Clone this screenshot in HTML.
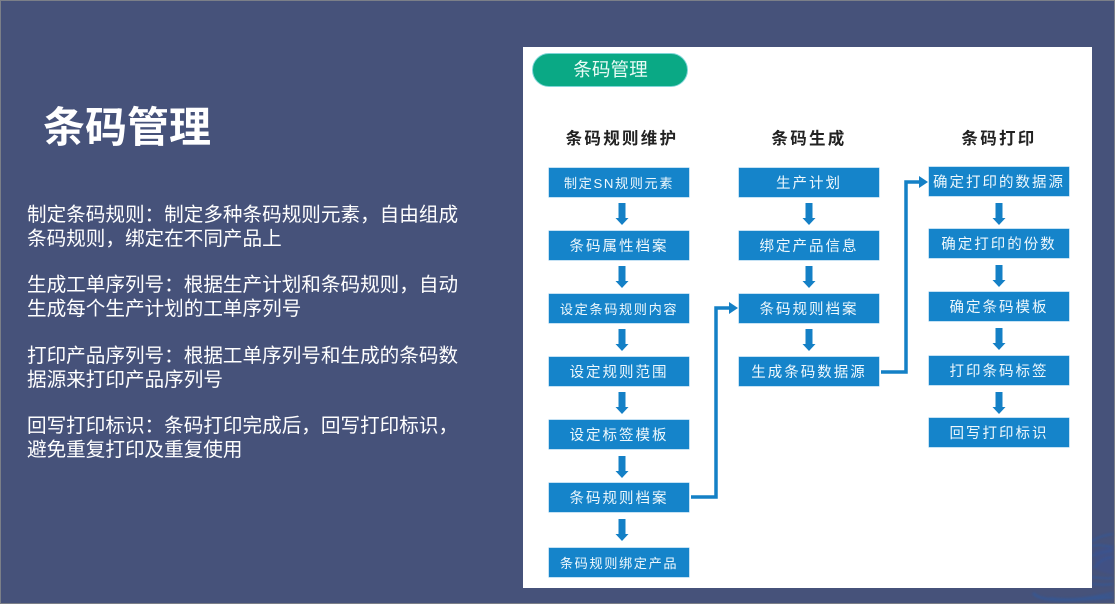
<!DOCTYPE html>
<html lang="zh">
<head>
<meta charset="utf-8">
<style>
html,body{margin:0;padding:0;background:#fff}
body{position:relative;width:1116px;height:605px;overflow:hidden;font-family:"Liberation Sans","Noto Sans CJK SC",sans-serif}
.slide{position:absolute;left:0;top:0;width:1113px;height:602px;background:#46527a;border:1px solid #7b7f88}
.abs{position:absolute}
.title{left:43px;top:100px;font-size:42px;line-height:56px;font-weight:700;color:#fff;white-space:nowrap}
.p{left:27px;width:440px;font-size:19.6px;line-height:24px;color:#fff;white-space:nowrap}
.panel{left:523px;top:47px;width:569px;height:541px;background:#fff}
.pill{left:532px;top:53px;width:154px;height:32px;border:1.5px solid #7fd6d8;border-radius:17px;background:#0aa985;color:#e8fbf5;font-size:18.6px;line-height:32px;text-align:center;text-indent:1px}
.h{width:160px;text-align:center;font-size:16.5px;line-height:22px;font-weight:700;letter-spacing:2.3px;color:#222;white-space:nowrap}
.b{width:140px;height:29px;background:#1584ca;box-shadow:0 0 0 .5px #8cc6ea;color:#eef8fd;font-size:14.5px;line-height:32px;text-align:center;letter-spacing:2px;white-space:nowrap;overflow:hidden}
.s{font-size:13.2px;letter-spacing:1.6px;line-height:31px}
svg{position:absolute;left:0;top:0}
</style>
</head>
<body>
<div class="slide"></div>
<svg width="1116" height="605" viewBox="0 0 1116 605" style="filter:blur(1px)">
<g fill="none" stroke="#2f5aa0" stroke-width="2" opacity=".6">
<path d="M1092 541C1100 536 1106 535 1113 534"/>
<path d="M1092 546C1100 544 1106 546 1113 547"/>
<path d="M1092 556C1100 552 1106 552 1113 550"/>
<path d="M1094 568C1100 560 1106 558 1113 557"/>
<path d="M1092 577C1100 578 1106 579 1113 578"/>
<path d="M1092 584C1100 585 1106 585 1113 584"/>
<path d="M1033 593C1040 601 1060 602 1113 597" stroke-width="3"/>
<path d="M1050 598C1070 601 1090 598 1113 593" stroke-width="2"/>
</g>
<path d="M1094 550L1113 545V575L1096 570Z" fill="#3a4f98" opacity=".35"/>
</svg>

<div class="abs title">条码管理</div>
<div class="abs p" style="top:203px">制定条码规则：制定多种条码规则元素，自由组成<br>条码规则，绑定在不同产品上</div>
<div class="abs p" style="top:273px">生成工单序列号：根据生产计划和条码规则，自动<br>生成每个生产计划的工单序列号</div>
<div class="abs p" style="top:344px">打印产品序列号：根据工单序列号和生成的条码数<br>据源来打印产品序列号</div>
<div class="abs p" style="top:414px">回写打印标识：条码打印完成后，回写打印标识，<br>避免重复打印及重复使用</div>

<div class="abs panel"></div>
<div class="abs pill">条码管理</div>

<div class="abs h" style="left:542px;top:128px">条码规则维护</div>
<div class="abs h" style="left:729px;top:128px">条码生成</div>
<div class="abs h" style="left:919px;top:128px">条码打印</div>

<div class="abs b s" style="left:549px;top:168px">制定SN规则元素</div>
<div class="abs b" style="left:549px;top:231px">条码属性档案</div>
<div class="abs b s" style="left:549px;top:294px">设定条码规则内容</div>
<div class="abs b" style="left:549px;top:357px">设定规则范围</div>
<div class="abs b" style="left:549px;top:420px">设定标签模板</div>
<div class="abs b" style="left:549px;top:483px">条码规则档案</div>
<div class="abs b s" style="left:549px;top:548px">条码规则绑定产品</div>

<div class="abs b" style="left:739px;top:168px">生产计划</div>
<div class="abs b" style="left:739px;top:231px">绑定产品信息</div>
<div class="abs b" style="left:739px;top:294px">条码规则档案</div>
<div class="abs b" style="left:739px;top:357px">生成条码数据源</div>

<div class="abs b" style="left:929px;top:167px">确定打印的数据源</div>
<div class="abs b" style="left:929px;top:229px">确定打印的份数</div>
<div class="abs b" style="left:929px;top:292px">确定条码模板</div>
<div class="abs b" style="left:929px;top:356px">打印条码标签</div>
<div class="abs b" style="left:929px;top:418px">回写打印标识</div>

<svg width="1116" height="605" viewBox="0 0 1116 605">
<defs>
<path id="d" d="M-3.5 0H3.5V15H6.5L0 22L-6.5 15H-3.5Z" fill="#1480c6"/>
</defs>
<use href="#d" x="622" y="203"/>
<use href="#d" x="622" y="266"/>
<use href="#d" x="622" y="329"/>
<use href="#d" x="622" y="392"/>
<use href="#d" x="622" y="456"/>
<use href="#d" x="622" y="519"/>
<use href="#d" x="809" y="203"/>
<use href="#d" x="809" y="266"/>
<use href="#d" x="809" y="329"/>
<use href="#d" x="999" y="203"/>
<use href="#d" x="999" y="265"/>
<use href="#d" x="999" y="328"/>
<use href="#d" x="999" y="392"/>
<path d="M691 497H716V308H732" fill="none" stroke="#1480c6" stroke-width="3.5"/>
<path d="M729 302L738 308L729 314Z" fill="#1480c6"/>
<path d="M881 372H906V182H922" fill="none" stroke="#1480c6" stroke-width="3.5"/>
<path d="M919 176L928 182L919 188Z" fill="#1480c6"/>
</svg>
</body>
</html>
